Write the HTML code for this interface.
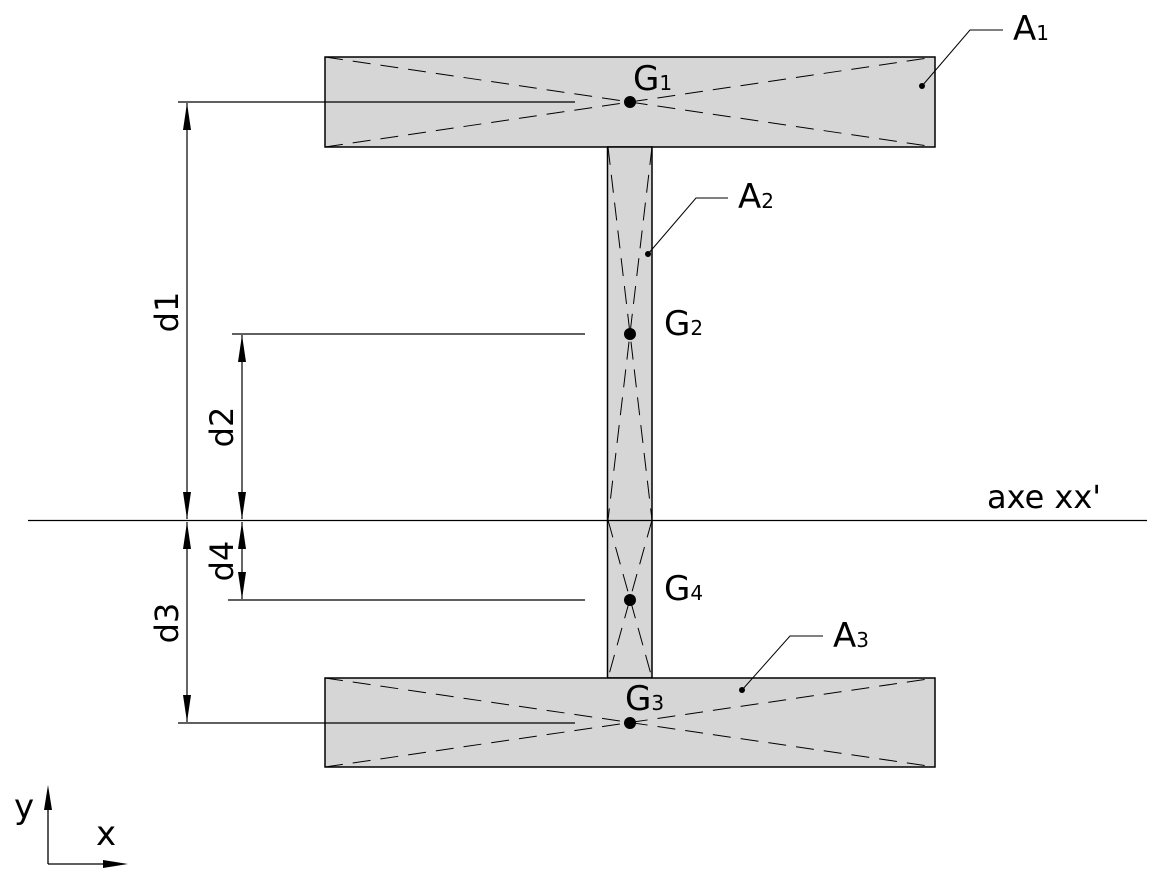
<!DOCTYPE html>
<html><head><meta charset="utf-8"><style>
html,body{margin:0;padding:0;background:#fff;width:1165px;height:872px;overflow:hidden}
svg text{font-family:"DejaVu Sans","Liberation Sans",sans-serif;fill:#000}
</style></head><body>
<svg width="1165" height="872" viewBox="0 0 1165 872" xmlns="http://www.w3.org/2000/svg">
<rect x="325" y="57" width="610" height="90" fill="#d6d6d6" stroke="#000" stroke-width="1.5"/>
<rect x="607.5" y="147" width="44.5" height="531" fill="#d6d6d6" stroke="#000" stroke-width="1.5"/>
<rect x="325" y="678" width="610" height="89" fill="#d6d6d6" stroke="#000" stroke-width="1.5"/>
<g stroke="#000" stroke-width="1" stroke-dasharray="18,10" fill="none">
<line x1="325" y1="57" x2="935" y2="147"/><line x1="325" y1="147" x2="935" y2="57"/>
<line x1="325" y1="678" x2="935" y2="767"/><line x1="325" y1="767" x2="935" y2="678"/>
<line x1="608" y1="147" x2="652" y2="520"/><line x1="652" y1="147" x2="608" y2="520"/>
<line x1="608" y1="520" x2="652" y2="678"/><line x1="652" y1="520" x2="608" y2="678"/>
</g>
<line x1="28" y1="520.5" x2="1147" y2="520.5" stroke="#000" stroke-width="1.3"/>
<g stroke="#000" stroke-width="1.3">
<line x1="178" y1="102" x2="575" y2="102"/>
<line x1="232" y1="334" x2="585" y2="334"/>
<line x1="228" y1="600" x2="585" y2="600"/>
<line x1="178" y1="723" x2="575" y2="723"/>
</g>
<g stroke="#000" stroke-width="1.2">
<line x1="187" y1="103" x2="187" y2="519"/>
<line x1="242" y1="335" x2="242" y2="519"/>
<line x1="187" y1="522" x2="187" y2="722"/>
<line x1="242" y1="522" x2="242" y2="599"/>
</g>
<g fill="#000">
<!-- d1 -->
<polygon points="187,103 183,130 191,130"/><polygon points="187,519 183,492 191,492"/>
<!-- d2 -->
<polygon points="242,335 238,362 246,362"/><polygon points="242,519 238,492 246,492"/>
<!-- d3 -->
<polygon points="187,522 183,549 191,549"/><polygon points="187,722 183,695 191,695"/>
<!-- d4 -->
<polygon points="242,522 238,549 246,549"/><polygon points="242,599 238,572 246,572"/>
<!-- coords -->
<polygon points="48,785 44,810 52,810"/><polygon points="128,864 103,860 103,868"/>
</g>
<g font-size="32">
<text transform="translate(178,312) rotate(-90)" text-anchor="middle">d1</text>
<text transform="translate(233,427) rotate(-90)" text-anchor="middle">d2</text>
<text transform="translate(178,623) rotate(-90)" text-anchor="middle">d3</text>
<text transform="translate(233,561) rotate(-90)" text-anchor="middle">d4</text>
</g>
<g fill="#000">
<circle cx="630" cy="102" r="6"/><circle cx="630" cy="334" r="6"/>
<circle cx="630" cy="600" r="6"/><circle cx="630" cy="723" r="6"/>
<circle cx="922" cy="86" r="3"/><circle cx="648" cy="254" r="3"/><circle cx="742" cy="690" r="3"/>
</g>
<g font-size="34">
<text x="633" y="90">G<tspan font-size="20">1</tspan></text>
<text x="664" y="335">G<tspan font-size="20">2</tspan></text>
<text x="664" y="600">G<tspan font-size="20">4</tspan></text>
<text x="625" y="710">G<tspan font-size="20">3</tspan></text>
<text x="1013" y="40">A<tspan font-size="20">1</tspan></text>
<text x="738" y="208">A<tspan font-size="20">2</tspan></text>
<text x="833" y="647">A<tspan font-size="20">3</tspan></text>
</g>
<g stroke="#000" stroke-width="1" fill="none">
<polyline points="922,86 970,30 1003,30"/>
<polyline points="648,254 696,198 728,198"/>
<polyline points="742,690 790,636 823,636"/>
</g>
<text x="987" y="508" font-size="32">axe xx'</text>
<g stroke="#000" stroke-width="1.3">
<line x1="48" y1="864" x2="48" y2="800"/>
<line x1="48" y1="864" x2="110" y2="864"/>
</g>
<text x="14" y="818" font-size="34">y</text>
<text x="96" y="845" font-size="34">x</text>
</svg>
</body></html>
